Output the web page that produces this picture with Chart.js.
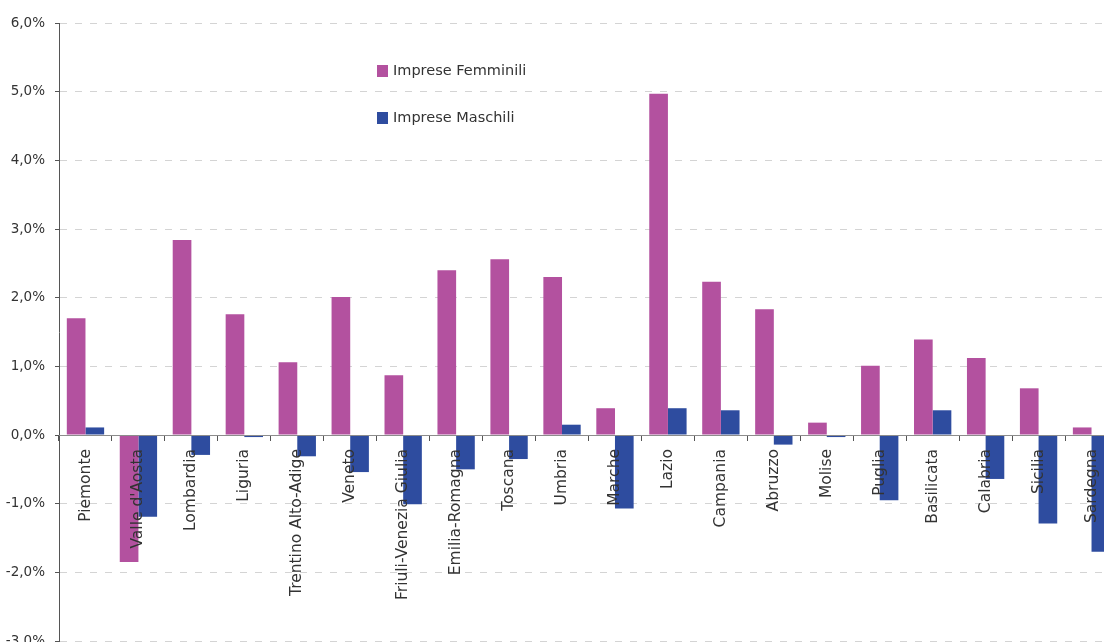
<!DOCTYPE html>
<html>
<head>
<meta charset="utf-8">
<script src="https://cdn.jsdelivr.net/npm/chart.js@4/dist/chart.umd.min.js"></script>
<style>
  html, body { margin: 0; padding: 0; background: #fff; overflow: hidden; }
  #wrap { position: absolute; left: 0; top: 0; width: 1122px; height: 662px; }
</style>
</head>
<body>
<div id="wrap"><canvas id="regioni"></canvas></div>
<script>
var regioni = ["Piemonte", "Valle d'Aosta", "Lombardia", "Liguria", "Trentino Alto-Adige", "Veneto",
    "Friuli-Venezia Giulia", "Emilia-Romagna", "Toscana", "Umbria", "Marche", "Lazio", "Campania",
    "Abruzzo", "Molise", "Puglia", "Basilicata", "Calabria", "Sicilia", "Sardegna"];
var femminili = [1.70, -1.85, 2.84, 1.76, 1.06, 2.01, 0.87, 2.40, 2.56, 2.30, 0.39, 4.97, 2.23,
    1.83, 0.18, 1.01, 1.39, 1.12, 0.68, 0.11];
var maschili = [0.11, -1.19, -0.29, -0.03, -0.31, -0.54, -1.01, -0.50, -0.35, 0.15, -1.07, 0.39, 0.36,
    -0.14, -0.03, -0.95, 0.36, -0.64, -1.29, -1.70];
var yTicks = [-3, -2, -1, 0, 1, 2, 3, 4, 5, 6];

var fontFam = "'DejaVu Sans', Verdana, sans-serif";
var textCol = "#333333";

function pct(v) {
    return v.toFixed(1).replace(".", ",") + "%";
}

// legend drawn inside the plot, two rows with a wide gap
var legendInside = {
    id: "legendInside",
    afterDraw: function(chart) {
        var ctx = chart.ctx;
        ctx.save();
        ctx.font = "14.5px " + fontFam;
        ctx.textBaseline = "middle";
        chart.data.datasets.forEach(function(ds, i) {
            var y = 71 + i * 47;
            ctx.fillStyle = ds.backgroundColor;
            ctx.fillRect(377, y - 6, 11, 12);
            ctx.fillStyle = textCol;
            ctx.fillText(ds.label, 393, y);
        });
        ctx.restore();
    }
};

var ctx = document.getElementById("regioni").getContext("2d");
var myChart = new Chart(ctx, {
    type: "bar",
    data: {
        labels: regioni,
        datasets: [
            {
                label: "Imprese Femminili",
                data: femminili,
                backgroundColor: "#B3519F",
                barPercentage: 1,
                categoryPercentage: 0.705
            },
            {
                label: "Imprese Maschili",
                data: maschili,
                backgroundColor: "#2E4C9F",
                barPercentage: 1,
                categoryPercentage: 0.705
            }
        ]
    },
    options: {
        responsive: true,
        maintainAspectRatio: false,
        animation: false,
        layout: { padding: { left: 0, top: 23, right: 4, bottom: 21 } },
        plugins: {
            legend: { display: false },
            tooltip: { enabled: false }
        },
        scales: {
            x: {
                position: { y: 0 },
                grid: { drawOnChartArea: false, drawTicks: true, tickLength: 5, color: "#555555", offset: true, z: 1 },
                border: { display: true, color: "#8C8C8C", width: 1, z: 1 },
                ticks: {
                    z: 1, // region names sit on top of the bars
                    autoSkip: false,
                    minRotation: 90,
                    maxRotation: 90,
                    padding: 9,
                    color: textCol,
                    font: { family: fontFam, size: 15.5 }
                }
            },
            y: {
                min: -3,
                max: 6,
                afterFit: function(scale) { scale.width = 59; },
                afterBuildTicks: function(scale) {
                    scale.ticks = yTicks.map(function(v) { return { value: v }; });
                },
                grid: {
                    color: function(c) { return c.tick && c.tick.value === 0 ? "rgba(0,0,0,0)" : "#D4D4D4"; },
                    tickColor: "#555555",
                    tickLength: 4,
                    lineWidth: 1
                },
                border: { display: true, color: "#555555", width: 1, dash: [7, 8] },
                ticks: {
                    padding: 10,
                    color: textCol,
                    font: { family: fontFam, size: 13.5 },
                    callback: function(v) { return pct(v); }
                }
            }
        }
    },
    plugins: [legendInside]
});
</script>
</body>
</html>
